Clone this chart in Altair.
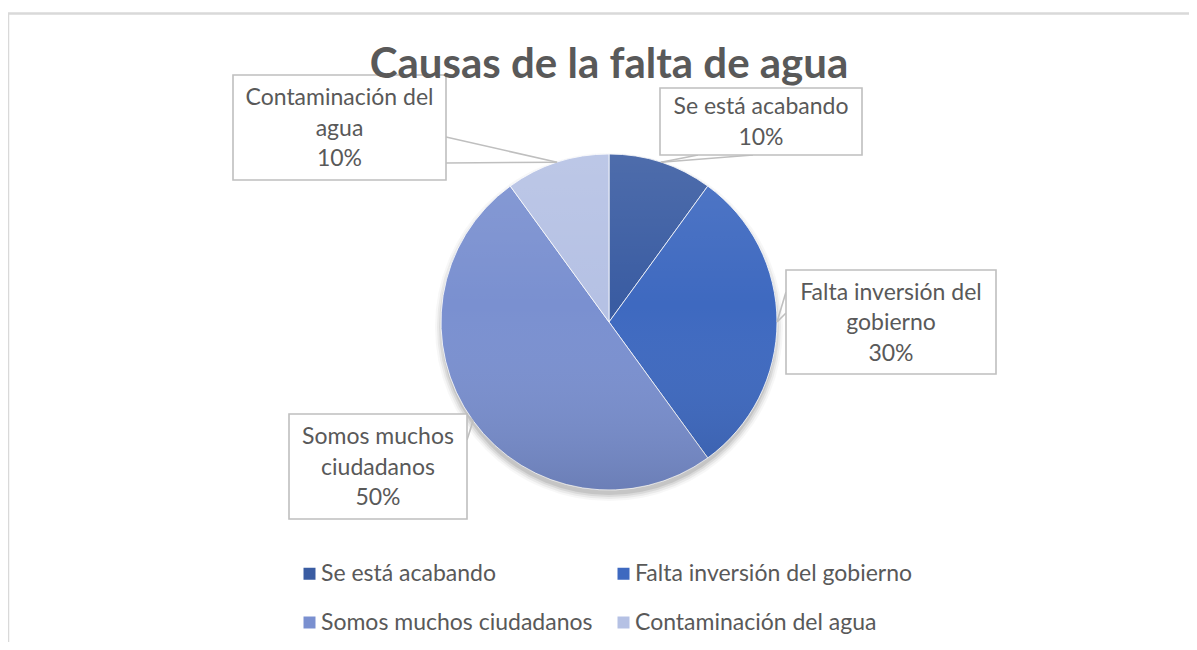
import math
import altair as alt
import pandas as pd

# ---- data ----
categories = ["Se está acabando", "Falta inversión del gobierno",
              "Somos muchos ciudadanos", "Contaminación del agua"]
values = [10, 30, 50, 10]
label_lines = [["Se está acabando"], ["Falta inversión del", "gobierno"],
               ["Somos muchos", "ciudadanos"], ["Contaminación del", "agua"]]
colors = ["#3A5CA2", "#3E69C0", "#7A90D0", "#B5C1E4"]
title_text = "Causas de la falta de agua"

# ---- layout (chart pixel coordinates) ----
W, H = 1181, 634
CX, CY, R = 601, 314, 168
FONT = "Lato"
TXT = "#595959"
BOX_STROKE = "#BFBFBF"
LABEL_SIZE = 23
LINE_H = 30.5
# callout boxes: x0, x1, y0, y1 and the two base points of the pointer
boxes = [
    (652, 854, 80, 147, (690, 147), (745, 147)),
    (778, 988, 262, 366, (778, 284), (778, 305)),
    (281, 459, 406, 511, (459, 407), (459, 432)),
    (225, 438, 67, 172, (438, 129), (438, 155)),
]

total = sum(values)
starts, ends, mids = [], [], []
acc = 0
for v in values:
    starts.append(acc)
    ends.append(acc + v)
    mids.append(acc + v / 2)
    acc += v

pie_df = pd.DataFrame({"cat": categories, "value": values,
                       "start": starts, "end": ends})

rows_box, rows_ptr, rows_txt = [], [], []
for i, (cat, v, m, b) in enumerate(zip(categories, values, mids, boxes)):
    x0, x1, y0, y1, p1, p2 = b
    ang = 2 * math.pi * m / total
    tx = CX + R * math.sin(ang)
    ty = CY - R * math.cos(ang)
    rows_box.append({"cat": cat, "x0": x0, "x1": x1, "y0": y0, "y1": y1})
    for p in (p1, p2):
        rows_ptr.append({"cat": cat, "x": p[0], "y": p[1], "x2": tx, "y2": ty})
    lines = label_lines[i] + [f"{v}%"]
    first_y = (y0 + y1) / 2 + 1 - (len(lines) - 1) * LINE_H / 2
    rows_txt.append({"cat": cat, "xc": (x0 + x1) / 2, "yc": first_y,
                     "label": "\n".join(lines)})
box_df = pd.DataFrame(rows_box)
ptr_df = pd.DataFrame(rows_ptr)
txt_df = pd.DataFrame(rows_txt)

xs = alt.Scale(domain=[0, W], range=[0, W], nice=False, zero=False)
ys = alt.Scale(domain=[0, H], range=[0, H], nice=False, zero=False)

one = pd.DataFrame({"k": [0]})

# frame lines
frame_top = alt.Chart(one).mark_rule(color="#D9D9D9", strokeWidth=2.5).encode(
    x=alt.value(0), x2=alt.value(W + 8), y=alt.value(5.5))
frame_left = alt.Chart(one).mark_rule(color="#D9D9D9", strokeWidth=2.5).encode(
    x=alt.value(0), y=alt.value(5), y2=alt.value(H + 8))

# soft shadow
shadows = []
for k, op in [(6, 0.03), (4, 0.05), (2, 0.07), (0, 0.09)]:
    shadows.append(
        alt.Chart(one).mark_arc(theta=0, theta2=2 * math.pi, radius=R + k,
                                color="#000000", opacity=op).encode(
            x=alt.value(CX), y=alt.value(CY + 5)))

pie = alt.Chart(pie_df).mark_arc(radius=R, stroke="#FFFFFF", strokeWidth=0.8).encode(
    theta=alt.Theta("start:Q", scale=alt.Scale(domain=[0, total])),
    theta2="end:Q",
    color=alt.Color("cat:N", sort=categories,
                    scale=alt.Scale(domain=categories, range=colors),
                    legend=alt.Legend(title=None, orient="none", legendX=290, legendY=554,
                                      direction="horizontal",
                                      columns=2, columnPadding=19, rowPadding=25,
                                      symbolType="square", symbolSize=144,
                                      symbolStrokeWidth=0, labelFont=FONT,
                                      labelFontSize=LABEL_SIZE, labelColor=TXT,
                                      labelOffset=0, labelLimit=400, padding=0)),
    x=alt.value(CX), y=alt.value(CY),
)

shade = alt.Chart(one).mark_arc(
    theta=0, theta2=2 * math.pi, radius=R,
    color=alt.Gradient(gradient="linear", x1=0, y1=0, x2=0, y2=1,
                       stops=[alt.GradientStop(color="rgba(255,255,255,0.10)", offset=0),
                              alt.GradientStop(color="rgba(255,255,255,0.0)", offset=0.45),
                              alt.GradientStop(color="rgba(0,0,0,0.12)", offset=1)])
).encode(x=alt.value(CX), y=alt.value(CY))

ptr = alt.Chart(ptr_df).mark_rule(color=BOX_STROKE, strokeWidth=1.6).encode(
    x=alt.X("x:Q", scale=xs, axis=None), y=alt.Y("y:Q", scale=ys, axis=None),
    x2="x2:Q", y2="y2:Q")

box = alt.Chart(box_df).mark_rect(fill="#FFFFFF", stroke=BOX_STROKE, strokeWidth=1.6).encode(
    x=alt.X("x0:Q", scale=xs, axis=None), x2="x1:Q",
    y=alt.Y("y0:Q", scale=ys, axis=None), y2="y1:Q")

txt = alt.Chart(txt_df).mark_text(font=FONT, fontSize=LABEL_SIZE, color=TXT, align="center",
                                  baseline="middle", lineBreak="\n", lineHeight=LINE_H).encode(
    x=alt.X("xc:Q", scale=xs, axis=None), y=alt.Y("yc:Q", scale=ys, axis=None),
    text="label:N")

title = alt.Chart(pd.DataFrame({"t": [title_text]})).mark_text(
    font=FONT, fontSize=42, fontWeight="bold", color=TXT, align="center",
    baseline="alphabetic").encode(x=alt.value(CX), y=alt.value(70), text="t:N")

chart = alt.layer(frame_top, frame_left, *shadows, pie, shade, ptr, box, txt, title).properties(
    width=W, height=H, autosize=alt.AutoSizeParams(type="none"), padding=0
).configure_view(stroke=None)

chart.save("out.html", embed_options={"renderer": "svg", "actions": False})
